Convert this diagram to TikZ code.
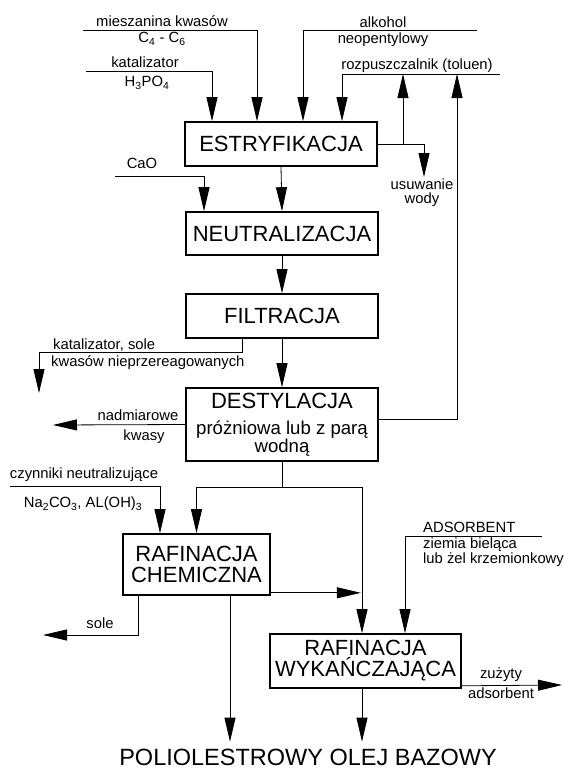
\documentclass[tikz,border=0pt]{standalone}
\usepackage{fontspec}
\setmainfont{Liberation Sans}
\usetikzlibrary{arrows.meta}
\newcommand{\boxfont}{\fontsize{22}{21}\selectfont}
\newcommand{\labfont}{\fontsize{14.8}{14}\selectfont}
\newcommand{\subfont}{\fontsize{18.6}{16}\selectfont}

\begin{document}
\begin{tikzpicture}[x=1pt, y=-1pt,
    proc/.style={draw, line width=1.6pt, inner sep=0pt, align=center, font=\boxfont},
    lab/.style={inner sep=0pt, font=\labfont},
    flow/.style={line width=0.8pt},
    arr/.style={flow, -{Triangle[length=24pt, width=11pt]}}]
  \useasboundingbox (0,0) rectangle (563,769);

  % process boxes
  \node[proc, minimum width=192pt, minimum height=44pt] (estr) at (281,144) {ESTRYFIKACJA};
  \node[proc, minimum width=192pt, minimum height=43pt] (neut) at (282,233.5) {NEUTRALIZACJA};
  \node[proc, minimum width=192pt, minimum height=44pt] (filt) at (282,316) {FILTRACJA};
  \node[proc, font=\subfont, minimum width=192pt, minimum height=73pt] (dest) at (282,424.5)
    {{\boxfont DESTYLACJA}\\[10pt]próżniowa lub z parą\\wodną};
  \node[proc, minimum width=147pt, minimum height=61pt] (rc) at (196.5,564.5) {RAFINACJA\\CHEMICZNA};
  \node[proc, minimum width=191pt, minimum height=54pt] (rw) at (365.5,661) {RAFINACJA\\WYKAŃCZAJĄCA};
  \node[font=\fontsize{23.5}{24}\selectfont, inner sep=0pt, outer sep=7pt, anchor=base] (prod)
    at (308,765) {POLIOLESTROWY OLEJ BAZOWY};

  % free ends of the streams
  \coordinate (mixin) at (83,30);
  \coordinate (katin) at (86,71);
  \coordinate (alkin) at (477,30);
  \coordinate (solvin) at (500,74);
  \coordinate (water) at (424,177);
  \coordinate (back1) at (403,74);
  \coordinate (back2) at (457,74);
  \coordinate (caoin) at (115,176);
  \coordinate (catout) at (39,393);
  \coordinate (acidout) at (53,425);
  \coordinate (neuin) at (10,486);
  \coordinate (saltout) at (43,635);
  \coordinate (adsin) at (542,536);
  \coordinate (usedout) at (562,685);

  % feeds to estryfikacja
  \draw[arr] (mixin) -| ([xshift=-24pt]estr.north);
  \draw[arr] (katin) -| ([xshift=-69pt]estr.north);
  \draw[arr] (alkin) -| ([xshift=22pt]estr.north);
  \draw[arr] (solvin) -| ([xshift=61pt]estr.north);
  \draw[arr] (estr.east) -| (water);
  \draw[arr] (back1 |- estr.east) -- (back1);
  \draw[arr] ([yshift=5pt]dest.east) -| (back2);

  % main line
  \draw[arr] (caoin) -| ([xshift=-78pt]neut.north);
  \draw[arr] (estr.south) -- (neut.north);
  \draw[arr] (neut.south) -- (filt.north);
  \draw[arr] (filt.south) -- (dest.north);
  \draw[arr] ([xshift=-40pt]filt.south) -- ++(0,14) -| (catout);
  \draw[arr] (dest.west) -- (acidout);
  \draw[flow] (dest.south) -- ++(0,26) coordinate (split);
  \draw[arr] (split) -| (rc.north);
  \draw[arr] (split) -| ([xshift=-3.5pt]rw.north);

  % refining
  \draw[arr] (neuin) -| ([xshift=-36.5pt]rc.north);
  \draw[arr] ([yshift=3pt]rc.south east) -- ++(90,0);
  \draw[arr] ([xshift=-58.5pt]rc.south) |- (saltout);
  \coordinate (rcout) at ([xshift=33.5pt]rc.south);
  \draw[arr] (rcout) -- (rcout |- prod.north);
  \draw[arr] (adsin) -| ([xshift=39.5pt]rw.north);
  \draw[arr] ([yshift=3pt]rw.south east) -- (usedout);
  \coordinate (rwout) at ([xshift=-3.5pt]rw.south);
  \draw[arr] (rwout) -- (rwout |- prod.north);

  % stream labels
  \node[lab] (lmix) at (162,21) {mieszanina kwasów};
  \node[lab] (lmix2) at (162,39) {C\textsubscript{4} - C\textsubscript{6}};
  \node[lab] (lkat) at (145,62) {katalizator};
  \node[lab] (lkat2) at (147,83) {H\textsubscript{3}PO\textsubscript{4}};
  \node[lab] (lalk) at (383,22) {alkohol};
  \node[lab] (lalk2) at (383,40) {neopentylowy};
  \node[lab] (lsolv) at (417,66) {rozpuszczalnik (toluen)};
  \node[lab, align=center] (lwater) at (422,193) {usuwanie\\wody};
  \node[lab] (lcao) at (142,163) {CaO};
  \node[lab, anchor=west] (lcat) at (53,345) {katalizator, sole};
  \node[lab, anchor=west] (lcat2) at (51,363) {kwasów nieprzereagowanych};
  \node[lab] (lexc) at (138,415) {nadmiarowe};
  \node[lab] (lexc2) at (144,437) {kwasy};
  \node[lab] (lneu) at (84,475) {czynniki neutralizujące};
  \node[lab] (lneu2) at (83,504) {Na\textsubscript{2}CO\textsubscript{3}, AL(OH)\textsubscript{3}};
  \node[lab] (lsalt) at (100,623) {sole};
  \node[lab, anchor=west] (lads) at (423,527) {ADSORBENT};
  \node[lab, anchor=west] (lads2) at (423,545) {ziemia bieląca};
  \node[lab, anchor=west] (lads3) at (423,560) {lub żel krzemionkowy};
  \node[lab] (lused) at (501,675) {zużyty};
  \node[lab] (lused2) at (501,693) {adsorbent};
\end{tikzpicture}
\end{document}
